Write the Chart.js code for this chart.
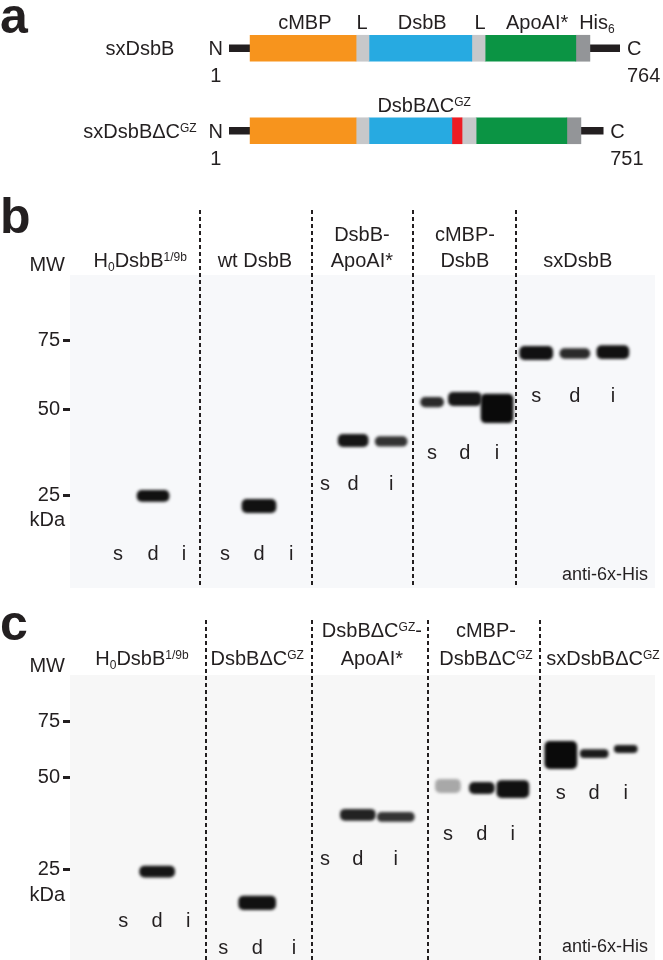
<!DOCTYPE html>
<html>
<head>
<meta charset="utf-8">
<script src="https://cdn.jsdelivr.net/npm/chart.js@4.4.1/dist/chart.umd.min.js"></script>
<style>
  html, body { margin: 0; padding: 0; background: #fff; }
  #wrap { position: relative; width: 663px; height: 960px; overflow: hidden; }
  canvas { position: absolute; left: 0; }
</style>
</head>
<body>
<div id="wrap">
  <canvas id="panelA" width="663" height="185" style="top:0px"></canvas>
  <canvas id="panelB" width="663" height="395" style="top:195px"></canvas>
  <canvas id="panelC" width="663" height="355" style="top:605px"></canvas>
</div>
<script>
const INK = '#231F20';
const FONT = '"Liberation Sans", Arial, Helvetica, sans-serif';

// ---------- a: domain maps (diagram units, N-terminus = 0, sxDsbB C-terminus = 100) ----------
const constructs = ['sxDsbB', 'sxDsbBΔCGZ'];
const tails   = [[0, 100], [0, 95.7]];
const cmbp    = [[5.4, 32.5], [5.4, 32.5]];
const linker1 = [[32.5, 35.8], [32.5, 35.8]];
const dsbb    = [[35.8, 62.1], [35.8, 57.0]];
const deltaC  = [null, [57.0, 59.6]];
const linker2 = [[62.1, 65.5], [59.6, 63.2]];
const apoai   = [[65.5, 88.7], [63.2, 86.4]];
const his6    = [[88.7, 92.3], [86.4, 90.0]];
const lastResidue = ['764', '751'];

// ---------- b: anti-6x-His blot ----------
const bMarkers = [75, 50, 25];
const bMarkerMig = [20.8, 43.1, 70.3];          // migration, % of membrane length
const bLaneX = [8.2, 14.2, 19.5, 26.5, 32.3, 37.8, 43.6, 48.4, 54.9,
                61.9, 67.5, 73.0, 79.7, 86.3, 92.8];  // lane centres, % of membrane width
const bDividers = [22.2, 41.4, 58.6, 76.2];
const bBandLane = [1, 4, 7, 8, 9, 10, 11, 12, 13, 14];
const bBandTop    = [68.8, 71.7, 50.9, 51.6, 39.1, 37.5, 38.0, 22.8, 23.5, 22.5];
const bBandBottom = [72.3, 75.9, 54.8, 54.7, 42.1, 41.7, 47.2, 27.0, 26.6, 26.7];

// ---------- c: anti-6x-His blot, ΔCGZ variants ----------
const cMarkers = [75, 50, 25];
const cMarkerMig = [15.0, 32.6, 62.3];
const cLaneX = [9.1, 14.9, 20.2, 26.2, 32.0, 38.3, 43.6, 49.2, 55.7,
                64.6, 70.4, 75.7, 83.9, 89.6, 95.0];
const cDividers = [23.2, 41.4, 61.2, 80.3];
const cBandLane = [1, 4, 7, 8, 9, 10, 11, 12, 13, 14];
const cBandTop    = [61.1, 70.7, 42.9, 43.9, 33.3, 34.3, 33.7, 21.2, 23.8, 22.5];
const cBandBottom = [64.6, 75.0, 46.5, 46.8, 37.6, 37.9, 39.2, 29.9, 26.4, 24.8];

const laneNames = ['s', 'd', 'i'];

// band styles
const bBandShade = ['#111', '#111', '#161616', '#333', '#2a2a2a', '#161616', '#0a0a0a', '#111', '#2a2a2a', '#111'];
const bBandWidth = [32, 34, 30, 32, 23, 33, 32, 33, 30, 32];
const cBandShade = ['#151515', '#111', '#222', '#333', '#a8a8a8', '#161616', '#111', '#0a0a0a', '#1a1a1a', '#1a1a1a'];
const cBandWidth = [35, 37, 35, 37, 25, 25, 32, 32, 28, 23];

function drawRich(ctx, parts, x, y, opt) {
  opt = opt || {};
  const size = opt.size || 20;
  const weight = opt.bold ? 'bold ' : '';
  if (typeof parts === 'string') parts = [parts];
  const segs = parts.map(p => Array.isArray(p) ? p : [p, '']);
  const small = Math.round(size * 0.62);
  let w = 0;
  segs.forEach(([t, k]) => {
    ctx.font = weight + (k ? small : size) + 'px ' + FONT;
    w += ctx.measureText(t).width;
  });
  let cx = opt.align === 'center' ? x - w / 2 : opt.align === 'right' ? x - w : x;
  ctx.save();
  ctx.fillStyle = opt.color || INK;
  ctx.textAlign = 'left';
  ctx.textBaseline = 'alphabetic';
  segs.forEach(([t, k]) => {
    ctx.font = weight + (k ? small : size) + 'px ' + FONT;
    const dy = k === 'sup' ? -size * 0.3 : k === 'sub' ? size * 0.2 : 0;
    ctx.fillText(t, cx, y + dy);
    cx += ctx.measureText(t).width;
  });
  ctx.restore();
  return w;
}

// ---------- panel a ----------
const rowLabels = [['sxDsbB'], ['sxDsbBΔC', ['GZ', 'sup']]];
const domainNames = [['cMBP'], ['L'], ['DsbB'], ['L'], ['ApoAI*'], ['His', ['6', 'sub']]];
const domainNameAt = [19.4, 34.0, 49.4, 64.2, 78.8, 94.1];

const mapLabels = {
  id: 'mapLabels',
  afterDraw(chart) {
    const {ctx, scales: {x, y}} = chart;
    drawRich(ctx, 'a', 0, 33, {size: 50, bold: true});
    constructs.forEach((c, i) => {
      const cy = y.getPixelForValue(i);
      drawRich(ctx, rowLabels[i], 140, cy + 7, {align: 'center'});
      const nx = x.getPixelForValue(tails[i][0]) - 6;
      const wN = drawRich(ctx, 'N', nx, cy + 7, {align: 'right'});
      drawRich(ctx, '1', nx - wN / 2, cy + 34, {align: 'center'});
      const cxp = x.getPixelForValue(tails[i][1]) + 7;
      drawRich(ctx, 'C', cxp, cy + 7);
      drawRich(ctx, lastResidue[i], cxp, cy + 34);
    });
    const top1 = y.getPixelForValue(0) - 19;
    domainNames.forEach((n, k) => drawRich(ctx, n, x.getPixelForValue(domainNameAt[k]), top1, {align: 'center'}));
    drawRich(ctx, ['DsbBΔC', ['GZ', 'sup']], x.getPixelForValue(49.9), y.getPixelForValue(1) - 19, {align: 'center'});
  }
};

function domainSet(data, color, thick, order) {
  return {data, backgroundColor: color, barThickness: thick, grouped: false, order: order || 0, borderWidth: 0};
}

new Chart(document.getElementById('panelA'), {
  type: 'bar',
  data: {
    labels: constructs,
    datasets: [
      domainSet(cmbp, '#F7941D', 26),
      domainSet(linker1, '#C7C8CA', 26),
      domainSet(dsbb, '#27AAE1', 26),
      domainSet(deltaC, '#ED1C24', 26),
      domainSet(linker2, '#C7C8CA', 26),
      domainSet(apoai, '#0B9444', 26),
      domainSet(his6, '#939598', 26),
      domainSet(tails, '#231F20', 7, 1)
    ]
  },
  options: {
    indexAxis: 'y',
    responsive: false,
    animation: false,
    devicePixelRatio: 1,
    layout: {padding: {left: 229, right: 43, top: 7, bottom: 13}},
    scales: {
      x: {type: 'linear', min: 0, max: 100, display: false},
      y: {display: false}
    },
    plugins: {legend: {display: false}, tooltip: {enabled: false}}
  },
  plugins: [mapLabels]
});

// ---------- blots ----------
const bHeaders = [
  [null, ['H', ['0', 'sub'], 'DsbB', ['1/9b', 'sup']]],
  [null, ['wt DsbB']],
  [['DsbB-'], ['ApoAI*']],
  [['cMBP-'], ['DsbB']],
  [null, ['sxDsbB']]
];
const bHeaderAt = [12.0, 31.6, 49.9, 67.5, 86.8];
const bLaneLabelY = [88.8, 88.8, 66.5, 56.5, 38.3];

const cHeaders = [
  [null, ['H', ['0', 'sub'], 'DsbB', ['1/9b', 'sup']]],
  [null, ['DsbBΔC', ['GZ', 'sup']]],
  [['DsbBΔC', ['GZ', 'sup'], '-'], ['ApoAI*']],
  [['cMBP-'], ['DsbBΔC', ['GZ', 'sup']]],
  [null, ['sxDsbBΔC', ['GZ', 'sup']]]
];
const cHeaderAt = [12.3, 32.0, 51.6, 71.1, 91.1];
const cLaneLabelY = [78.3, 86.9, 58.5, 50.5, 37.4];

function blotDecor(p) {
  return {
    id: 'blotDecor',
    beforeDatasetsDraw(chart) {
      const {ctx, chartArea: a, scales: {y}} = chart;
      const top = y.getPixelForValue(0);
      ctx.save();
      ctx.fillStyle = p.membrane;
      ctx.fillRect(a.left, top, a.right - a.left, a.bottom - top);
      ctx.restore();
      ctx.save();
      ctx.filter = 'blur(1.5px)';
    },
    afterDatasetsDraw(chart) {
      const {ctx, chartArea: a, scales: {x}} = chart;
      ctx.restore();
      ctx.save();
      ctx.strokeStyle = INK;
      ctx.lineWidth = 2;
      ctx.setLineDash([4, 3]);
      p.dividers.forEach(v => {
        const px = Math.round(x.getPixelForValue(v));
        ctx.beginPath();
        ctx.moveTo(px, a.top);
        ctx.lineTo(px, a.bottom);
        ctx.stroke();
      });
      ctx.restore();
    },
    afterDraw(chart) {
      const {ctx, chartArea: a, scales: {x, y}} = chart;
      drawRich(ctx, p.letter, 0, p.letterBase, {size: 50, bold: true});
      drawRich(ctx, 'MW', a.left - 5, a.top + p.mwDy, {align: 'right'});
      drawRich(ctx, 'kDa', a.left - 5, y.getPixelForValue(p.markerMig[2]) + 31, {align: 'right'});
      p.headers.forEach((h, g) => {
        const hx = x.getPixelForValue(p.headerAt[g]);
        if (h[0]) drawRich(ctx, h[0], hx, a.top + p.row1, {align: 'center'});
        drawRich(ctx, h[1], hx, a.top + p.row2, {align: 'center'});
        const ly = y.getPixelForValue(p.laneLabelY[g]) + 7;
        laneNames.forEach((n, k) => drawRich(ctx, n, x.getPixelForValue(p.laneX[g * 3 + k]), ly, {align: 'center'}));
      });
      drawRich(ctx, 'anti-6x-His', a.right - 7, a.bottom - 8, {align: 'right', size: 18});
    }
  };
}

function makeBlot(id, p) {
  const datasets = p.bandLane.map((lane, i) => ({
    data: [{x: p.laneX[lane], y: [p.bandTop[i], p.bandBottom[i]]}],
    backgroundColor: p.bandShade[i],
    barThickness: p.bandWidth[i],
    borderRadius: 5,
    borderSkipped: false,
    borderWidth: 0,
    grouped: false
  }));
  return new Chart(document.getElementById(id), {
    type: 'bar',
    data: {datasets},
    options: {
      responsive: false,
      animation: false,
      devicePixelRatio: 1,
      layout: {padding: {left: 30, right: 8, top: 15, bottom: p.padBottom}},
      scales: {
        x: {type: 'linear', min: 0, max: 100, display: false, offset: false},
        y: {
          type: 'linear', reverse: true, min: p.yMin, max: p.yMax,
          afterBuildTicks: s => { s.ticks = p.markerMig.map(v => ({value: v})); },
          afterFit: s => { s.width = 40; s.paddingTop = 0; s.paddingBottom = 0; },
          ticks: {
            autoSkip: false, padding: 3, color: INK,
            font: {family: FONT, size: 20},
            callback: (v, i) => String(p.markers[i])
          },
          grid: {drawOnChartArea: false, drawTicks: true, tickLength: 7, tickWidth: 3, tickColor: INK},
          border: {display: false}
        }
      },
      plugins: {legend: {display: false}, tooltip: {enabled: false}}
    },
    plugins: [blotDecor(p)]
  });
}

makeBlot('panelB', {
  letter: 'b', letterBase: 38, mwDy: 61, row1: 31, row2: 57,
  membrane: '#F7F8FA', yMin: -20.8, yMax: 100, padBottom: 2,
  markers: bMarkers, markerMig: bMarkerMig, laneX: bLaneX, dividers: bDividers,
  bandLane: bBandLane, bandTop: bBandTop, bandBottom: bBandBottom,
  bandShade: bBandShade, bandWidth: bBandWidth,
  headers: bHeaders, headerAt: bHeaderAt, laneLabelY: bLaneLabelY
});

makeBlot('panelC', {
  letter: 'c', letterBase: 35, mwDy: 52, row1: 17, row2: 45,
  membrane: '#F7F7F7', yMin: -17.6, yMax: 91.1, padBottom: 0,
  markers: cMarkers, markerMig: cMarkerMig, laneX: cLaneX, dividers: cDividers,
  bandLane: cBandLane, bandTop: cBandTop, bandBottom: cBandBottom,
  bandShade: cBandShade, bandWidth: cBandWidth,
  headers: cHeaders, headerAt: cHeaderAt, laneLabelY: cLaneLabelY
});
</script>
</body>
</html>
